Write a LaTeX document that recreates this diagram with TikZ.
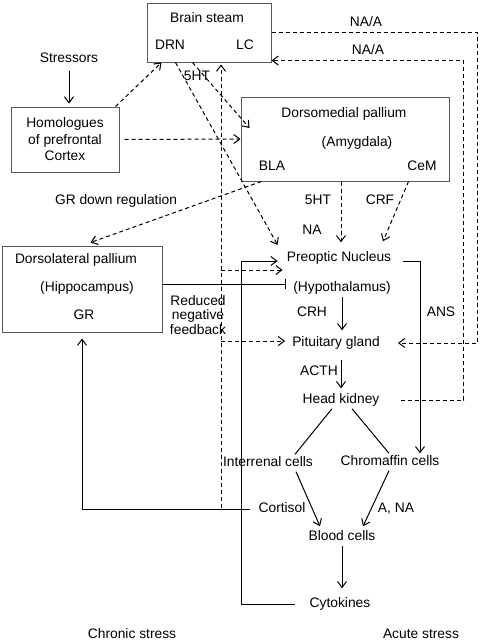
\documentclass[tikz,border=0pt]{standalone}
\usepackage{fontspec}
\setmainfont{Liberation Sans}
\usetikzlibrary{arrows.meta}
\begin{document}
\begin{tikzpicture}
  [x=1pt,y=-1pt,every node/.style={font=\fontsize{13.8}{16.5}\selectfont,inner sep=2pt,text height=10pt,text depth=3pt},
   box/.style={draw=black!65,line width=1pt,text height=,text depth=},
   line/.style={line width=1pt},
   arr/.style={line,-{Straight Barb[length=6pt,width=9pt]}},
   darr/.style={arr,dash pattern=on 4pt off 3pt},
   inh/.style={line,-{Bar[width=10pt]}}]
  \useasboundingbox (0,0) rectangle (480,643);
  \node[box,minimum width=124pt,minimum height=59pt] (bs) at (209,32.5) {};
  \node[box,minimum width=108pt,minimum height=65pt,align=center] (hom) at (65,139.5) {Homologues\\of prefrontal\\Cortex};
  \node[box,minimum width=208pt,minimum height=84pt] (dm) at (345,139) {};
  \node[box,minimum width=160pt,minimum height=86pt] (dl) at (82,289) {};
  \node (bst) at (207,19) {Brain steam};
  \node (drn) at (170,46) {DRN};
  \node (lc) at (245,46) {LC};
  \node (stress) at (69,59) {Stressors};
  \node (dmt) at (344,114) {Dorsomedial pallium};
  \node (amy) at (357,143) {(Amygdala)};
  \node (bla) at (272,167) {BLA};
  \node (cem) at (422,167) {CeM};
  \node (dlt) at (76,260) {Dorsolateral pallium};
  \node (hip) at (87,288) {(Hippocampus)};
  \node (gr) at (84,316) {GR};
  \node (pre) at (339,258) {Preoptic Nucleus};
  \node (hyp) at (342,288) {(Hypothalamus)};
  \node (pit) at (336,343) {Pituitary gland};
  \node (hk) at (341,400) {Head kidney};
  \node (inter) at (268,463) {Interrenal cells};
  \node (chrom) at (390,462) {Chromaffin cells};
  \node (cort) at (282,509) {Cortisol};
  \node (blood) at (342,537) {Blood cells};
  \node (cyto) at (340,604) {Cytokines};
  \node (chronic) at (132,635) {Chronic stress};
  \node (acute) at (421,635) {Acute stress};
  \node (naa1) at (366,23) {NA/A};
  \node (naa2) at (368,51) {NA/A};
  \node (sht1) at (197,77) {5HT};
  \node (grdown) at (116,201) {GR down regulation};
  \node (sht2) at (318,201) {5HT};
  \node (crf) at (380,201) {CRF};
  \node (na) at (312,231) {NA};
  \node (crh) at (312,313) {CRH};
  \node (ans) at (441,313) {ANS};
  \node (acth) at (319,372) {ACTH};
  \node (ana) at (396,509) {A, NA};
  \node[align=center,font=\fontsize{13.8}{14.5}\selectfont,text height=,text depth=] (redfb) at (198,315) {Reduced\\negative\\feedback};
  \coordinate (fb) at (221,508);

  \draw[arr,shorten <=3pt,shorten >=3pt] (stress) -- (stress |- hom.north);
  \draw[darr] ([xshift=-4pt]hom.north east) -- ([xshift=15pt]bs.south west);
  \draw[darr] ([xshift=5pt]hom.east) -- (dm.west);
  \draw[darr] ([xshift=46pt]bs.south west) -- ([xshift=9pt,yshift=11pt]dm.west);
  \draw[darr] ([xshift=29pt]bs.south west) -- ([xshift=-7pt,yshift=13pt]pre.west);
  \draw[darr] (bs.east) -- ++(206,0) |- ([xshift=16pt]pit.east);
  \draw[darr] ([xshift=19pt]hk.east) -- ++(63,0) |- ([yshift=2pt]bs.south east);
  \draw[darr,shorten >=2pt] (fb) -- (fb |- bs.south);
  \draw[darr] ([yshift=-12pt]pre.west -| fb) -- ([xshift=-2pt,yshift=-12pt]pre.west);
  \draw[darr] ([yshift=2pt]pit.west -| fb) -- ([xshift=-5pt,yshift=2pt]pit.west);
  \draw[arr,shorten >=6pt] ([xshift=-6pt]cort.west) -| (dl.south);
  \draw[arr] ([xshift=-13pt]cyto.west) -- ++(-53,0) |- ([xshift=-7pt,yshift=-3pt]pre.west);
  \draw[inh] ([yshift=5pt]dl.east) -- ([xshift=-5pt,yshift=4pt]hyp.west);
  \draw[darr] ([xshift=21pt]dm.south west) -- ([xshift=89pt,yshift=3pt]dl.north west);
  \draw[darr] ([xshift=-4pt]dm.south) -- ([xshift=2pt,yshift=7pt]pre.north);
  \draw[darr] ([xshift=-41pt]dm.south east) -- ([xshift=44pt,yshift=8pt]pre.north);
  \draw[arr,shorten >=4pt] (hyp.south) -- (hyp.south |- pit.north);
  \draw[arr,shorten <=8pt,shorten >=3pt] (pit.south -| hk) -- (hk.north);
  \draw[arr] ([xshift=10pt,yshift=-3pt]pre.east) -| ([xshift=30pt]chrom.north);
  \foreach \a/\to/\b in {-9/inter/27,11/chrom/-1}
    \draw[line] ([xshift=\a pt]hk.south) -- ([xshift=\b pt]\to.north);
  \draw[arr] ([xshift=28pt]inter.south) -- ([xshift=-22pt,yshift=2pt]blood.north);
  \draw[arr] ([xshift=-1pt]chrom.south) -- ([xshift=21pt,yshift=2pt]blood.north);
  \draw[arr,shorten >=7pt] (blood.south) -- (blood.south |- cyto.north);
\end{tikzpicture}
\end{document}
